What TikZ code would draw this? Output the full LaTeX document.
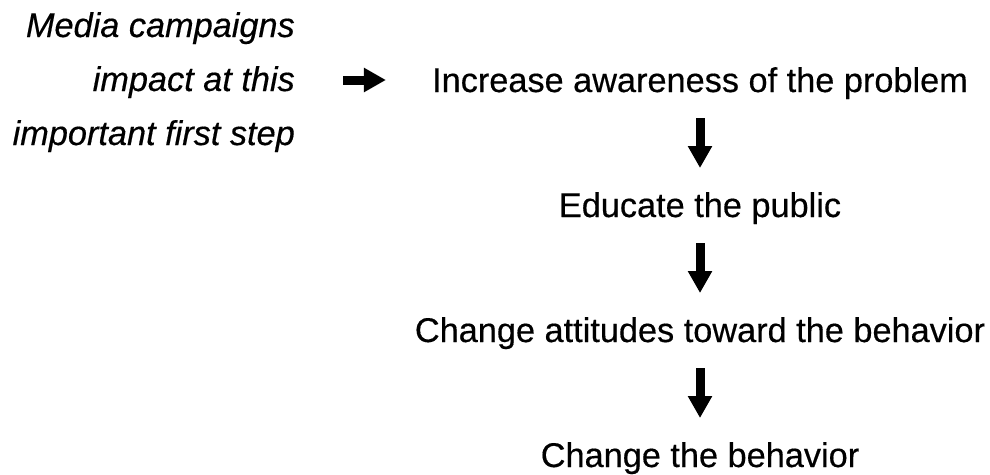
\documentclass[tikz,border=0pt]{standalone}
\usepackage{fontspec}
\setmainfont{Liberation Sans}[FakeBold=0.4]
\usetikzlibrary{arrows.meta}

\begin{document}
\begin{tikzpicture}[x=1pt, y=-1pt,
  step box/.style = {inner sep=0pt, font=\fontsize{34.3}{40}\selectfont},
  side box/.style = {step box, anchor=base east, font=\fontsize{34.3}{40}\selectfont\itshape},
  flow/.style = {line width=9pt, -{Triangle[width=23pt,length=22pt]}}]
  \useasboundingbox (0,0) rectangle (990,474);
  \node[side box] (m) at (295,37) {Media campaigns};
  \node[side box] (i) at (295,91) {impact at this};
  \node[side box] (f) at (295,145) {important first step};
  \node[step box, anchor=base] (1) at (700,92) {Increase awareness of the problem};
  \node[step box, anchor=base] (2) at (700,217) {Educate the public};
  \node[step box, anchor=base] (3) at (700,342) {Change attitudes toward the behavior};
  \node[step box, anchor=base] (4) at (700,467) {Change the behavior};
  \draw[flow] ([xshift=48pt,yshift=11pt]i.base east) -- ([xshift=-46pt,yshift=12pt]1.base west);
  \draw[flow] ([yshift=-26pt]1.base) -- ([yshift=49pt]2.base);
  \draw[flow] ([yshift=-26pt]2.base) -- ([yshift=49pt]3.base);
  \draw[flow] ([yshift=-26pt]3.base) -- ([yshift=49pt]4.base);
\end{tikzpicture}
\end{document}
